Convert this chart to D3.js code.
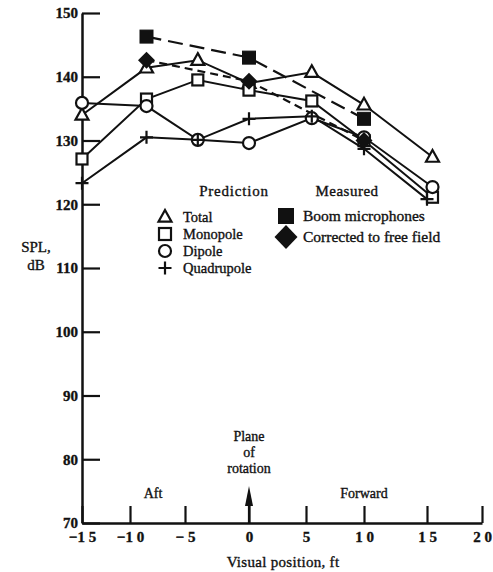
<!DOCTYPE html>
<html>
<head>
<meta charset="utf-8">
<script src="https://cdn.jsdelivr.net/npm/d3@7"></script>
<style>
  html, body { margin: 0; padding: 0; background: #fff; }
  svg { display: block; }
  text { font-family: "Liberation Serif", "DejaVu Serif", serif; fill: #111; stroke: #111; stroke-width: 0.35px; }
</style>
</head>
<body>
<svg id="chart" width="493" height="572"></svg>
<script>
// ---------- data ----------
const xTicks = [-15, -10, -5, 0, 5, 10, 15, 20];
const xTickLabels = ["\u22121 5", "\u22121 0", "\u2212 5", "0", "5", "1 0", "1 5", "2 0"];
const yTicks = [70, 80, 90, 100, 110, 120, 130, 140, 150];

const positions = [-15, -8.5, -4, 0, 5.5, 10, 15.5];
const totalSPL      = [134.0, 141.4, 142.6, 139.0, 140.7, 135.6, 127.4];
const monopoleSPL   = [127.1, 136.5, 139.5, 137.9, 136.2, 130.0, 121.1];
const dipoleSPL     = [135.9, 135.4, 130.1, 129.6, 133.5, 130.5, 122.7];
const quadPositions = [-15, -8.5, -4, 0, 5.5, 10, 15];
const quadrupoleSPL = [123.3, 130.5, 130.1, 133.4, 133.8, 128.7, 120.8];

const measPositions = [-8.5, 0, 10];
const boomSPL       = [146.3, 143.0, 133.4];
const correctedSPL  = [142.6, 139.3, 130.0];

// ---------- layout ----------
const svg = d3.select("#chart");
const x = d3.scaleLinear().domain(xTicks).range([82, 130, 185, 249, 306, 364, 427, 482]);
const y = d3.scaleLinear().domain([70, 150]).range([523, 13]);

const ink = "#111";

// axes
const xAxis = d3.axisBottom(x).tickValues(xTicks)
  .tickFormat((d, i) => xTickLabels[i]).tickSize(-17).tickSizeOuter(0).tickPadding(8);
const gx = svg.append("g").attr("transform", `translate(0,${y(70)})`).call(xAxis);
gx.select(".domain").attr("stroke", ink).attr("stroke-width", 2.5);
gx.selectAll(".tick line").attr("stroke", ink).attr("stroke-width", 2.2);
gx.selectAll(".tick text").attr("font-size", 15).attr("fill", ink)
  .attr("font-family", "Liberation Serif").style("font-weight", "bold");

const yAxis = d3.axisLeft(y).tickValues(yTicks).tickSize(-18).tickSizeOuter(0).tickPadding(4);
const gy = svg.append("g").attr("transform", `translate(${x(-15)},0)`).call(yAxis);
gy.select(".domain").attr("stroke", ink).attr("stroke-width", 2.5);
gy.selectAll(".tick line").attr("stroke", ink).attr("stroke-width", 2.2);
gy.selectAll(".tick text").attr("font-size", 15).attr("fill", ink)
  .attr("font-family", "Liberation Serif").style("font-weight", "bold");

// axis titles
svg.append("text").attr("x", 36).attr("y", 252).attr("text-anchor", "middle")
  .attr("font-size", 15).text("SPL,");
svg.append("text").attr("x", 36).attr("y", 270).attr("text-anchor", "middle")
  .attr("font-size", 15).text("dB");
svg.append("text").attr("x", 283).attr("y", 567).attr("text-anchor", "middle")
  .attr("font-size", 15).attr("letter-spacing", 0.3).text("Visual position, ft");

// annotations
svg.append("text").attr("x", 153).attr("y", 498).attr("text-anchor", "middle")
  .attr("font-size", 14).text("Aft");
svg.append("text").attr("x", 364).attr("y", 498).attr("text-anchor", "middle")
  .attr("font-size", 14).text("Forward");
["Plane", "of", "rotation"].forEach((t, i) => {
  svg.append("text").attr("x", x(0)).attr("y", 441 + i * 16).attr("text-anchor", "middle")
    .attr("font-size", 14).text(t);
});
// arrow at plane of rotation
svg.append("line").attr("x1", x(0)).attr("x2", x(0)).attr("y1", y(70)).attr("y2", 498)
  .attr("stroke", ink).attr("stroke-width", 2.2);
svg.append("path")
  .attr("d", `M${x(0)},486 L${x(0) - 4},506 L${x(0) + 4},506 Z`)
  .attr("fill", ink);

// ---------- lines ----------
const line = d3.line().x(d => x(d[0])).y(d => y(d[1]));
const zip = (a, b) => a.map((v, i) => [v, b[i]]);

const solidSeries = [
  zip(positions, totalSPL),
  zip(positions, monopoleSPL),
  zip(positions, dipoleSPL),
  zip(quadPositions, quadrupoleSPL)
];
solidSeries.forEach(s => {
  svg.append("path").attr("d", line(s)).attr("fill", "none")
    .attr("stroke", ink).attr("stroke-width", 2);
});
svg.append("path").attr("d", line(zip(measPositions, boomSPL))).attr("fill", "none")
  .attr("stroke", ink).attr("stroke-width", 2.2).attr("stroke-dasharray", "15,7");
svg.append("path").attr("d", line(zip(measPositions, correctedSPL))).attr("fill", "none")
  .attr("stroke", ink).attr("stroke-width", 2.2).attr("stroke-dasharray", "8,5");

// ---------- markers ----------
function triangle(g, cx, cy, s) {
  const h = s * 0.9;
  g.append("path").attr("d", `M${cx},${cy - h * 0.6} L${cx + s / 2},${cy + h * 0.4} L${cx - s / 2},${cy + h * 0.4} Z`)
    .attr("fill", "#fff").attr("stroke", ink).attr("stroke-width", 2.2).attr("stroke-linejoin", "miter");
}
function square(g, cx, cy, s, filled) {
  g.append("rect").attr("x", cx - s / 2).attr("y", cy - s / 2).attr("width", s).attr("height", s)
    .attr("fill", filled ? ink : "#fff").attr("stroke", ink).attr("stroke-width", filled ? 1 : 2.2);
}
function circle(g, cx, cy, r) {
  g.append("circle").attr("cx", cx).attr("cy", cy).attr("r", r)
    .attr("fill", "#fff").attr("stroke", ink).attr("stroke-width", 2.2);
}
function plus(g, cx, cy, s) {
  g.append("path").attr("d", `M${cx - s / 2},${cy} H${cx + s / 2} M${cx},${cy - s / 2} V${cy + s / 2}`)
    .attr("stroke", ink).attr("stroke-width", 2.2).attr("fill", "none");
}
function diamond(g, cx, cy, w, h) {
  g.append("path").attr("d", `M${cx},${cy - h / 2} L${cx + w / 2},${cy} L${cx},${cy + h / 2} L${cx - w / 2},${cy} Z`)
    .attr("fill", ink);
}

const gm = svg.append("g");
zip(positions, totalSPL).forEach(d => triangle(gm, x(d[0]), y(d[1]), 13));
zip(positions, monopoleSPL).forEach(d => square(gm, x(d[0]), y(d[1]), 11, false));
zip(positions, dipoleSPL).forEach(d => circle(gm, x(d[0]), y(d[1]), 6));
zip(quadPositions, quadrupoleSPL).forEach(d => plus(gm, x(d[0]), y(d[1]), 13));
zip(measPositions, boomSPL).forEach(d => square(gm, x(d[0]), y(d[1]), 13, true));
zip(measPositions, correctedSPL).forEach(d => diamond(gm, x(d[0]), y(d[1]), 17, 17));

// ---------- legend ----------
const gl = svg.append("g");
gl.append("text").attr("x", 234).attr("y", 196).attr("text-anchor", "middle")
  .attr("font-size", 15).attr("letter-spacing", 0.8).text("Prediction");
gl.append("text").attr("x", 347).attr("y", 196).attr("text-anchor", "middle")
  .attr("font-size", 15).attr("letter-spacing", 0.5).text("Measured");

const predLegend = ["Total", "Monopole", "Dipole", "Quadrupole"];
const rowY = [217, 234, 251, 268];
triangle(gl, 165, rowY[0], 13);
square(gl, 165, rowY[1], 12, false);
circle(gl, 165, rowY[2], 6);
plus(gl, 165, rowY[3], 13);
predLegend.forEach((t, i) => {
  gl.append("text").attr("x", 183).attr("y", rowY[i] + 5).attr("font-size", 14.5).text(t);
});

const measLegend = ["Boom microphones", "Corrected to free field"];
square(gl, 286, 216, 15, true);
diamond(gl, 286, 237, 23, 24);
gl.append("text").attr("x", 303).attr("y", 221).attr("font-size", 15.5).text(measLegend[0]);
gl.append("text").attr("x", 303).attr("y", 242).attr("font-size", 15.5).text(measLegend[1]);
</script>
</body>
</html>
